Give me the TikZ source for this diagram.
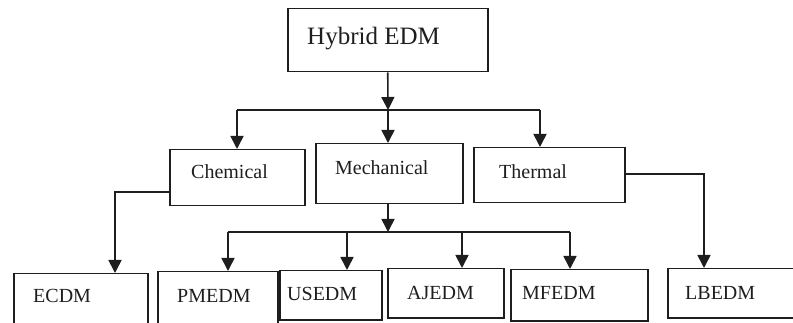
\documentclass[tikz,border=0pt]{standalone}
\usepackage{fontspec}
\setmainfont{Liberation Serif}
\usetikzlibrary{arrows.meta}
\definecolor{ink}{HTML}{1E1E1E}
\tikzset{
  box/.style={draw=ink, line width=1.5pt, rectangle, inner sep=0pt, anchor=north west},
  lbl/.style={anchor=base west, inner sep=0pt, text=ink, font=\fontsize{20}{24}\selectfont},
  toplbl/.style={lbl, font=\fontsize{25}{30}\selectfont},
  wire/.style={draw=ink, line width=1.6pt},
  arr/.style={wire, -{Triangle[length=13pt,width=13pt]}},
}
\begin{document}
\begin{tikzpicture}[x=1pt,y=-1pt]
\useasboundingbox (0,0) rectangle (793,323);
\clip (0,0) rectangle (793,323);

% boxes: top-left corner, size
\node[box, minimum width=200, minimum height=63] (hybrid) at (287,8) {};
\node[box, minimum width=135, minimum height=56] (chem) at (169,149) {};
\node[box, minimum width=147, minimum height=60] (mech) at (315,143) {};
\node[box, minimum width=151, minimum height=55] (therm) at (473,147) {};
\node[box, minimum width=134, minimum height=52] (ecdm) at (13,273) {};
\node[box, minimum width=120, minimum height=54] (pmedm) at (157,271) {};
\node[box, minimum width=102, minimum height=49] (usedm) at (279,270) {};
\node[box, minimum width=116, minimum height=49] (ajedm) at (387,268) {};
\node[box, minimum width=137, minimum height=51] (mfedm) at (510,269) {};
\node[box, minimum width=132, minimum height=49] (lbedm) at (667,268) {};

% labels
\node[toplbl] (hybridT) at (307,45) {Hybrid EDM};
\node[lbl] (chemT) at (191,179) {Chemical};
\node[lbl] (mechT) at (335,175) {Mechanical};
\node[lbl] (thermT) at (499,179) {Thermal};
\node[lbl] (ecdmT) at (33,303) {ECDM};
\node[lbl] (pmedmT) at (177,303) {PMEDM};
\node[lbl] (usedmT) at (287,301) {USEDM};
\node[lbl] (ajedmT) at (407,300) {AJEDM};
\node[lbl] (mfedmT) at (522,300) {MFEDM};
\node[lbl] (lbedmT) at (685,300) {LBEDM};

% first-level bus
\coordinate (busL) at (237,110);
\coordinate (busC) at (388,110);
\coordinate (busR) at (540,110);
\draw[arr] (hybrid.south) -- (busC);
\draw[wire] (busL) -- (busR);
\draw[arr] (busL) -- (busL |- chem.north);
\draw[arr] (busC) -- (busC |- mech.north);
\draw[arr] (busR) -- (busR |- therm.north);

% chemical and thermal branches
\coordinate (chemK) at (115,192);
\coordinate (thermK) at (704,174);
\draw[arr] (chem.west |- chemK) -| (chemK |- ecdm.north);
\draw[arr] (therm.east |- thermK) -| (thermK |- lbedm.north);

% mechanical bus
\coordinate (mbusC) at (388,232);
\coordinate (mbus1) at (228,232);
\coordinate (mbus2) at (347,232);
\coordinate (mbus3) at (462,232);
\coordinate (mbus4) at (570,232);
\draw[arr] (mech.south -| mbusC) -- (mbusC);
\draw[wire] (mbus1) -- (mbus4);
\draw[arr] (mbus1) -- (mbus1 |- pmedm.north);
\draw[arr] (mbus2) -- (mbus2 |- usedm.north);
\draw[arr] (mbus3) -- (mbus3 |- ajedm.north);
\draw[arr] (mbus4) -- (mbus4 |- mfedm.north);
\end{tikzpicture}
\end{document}
